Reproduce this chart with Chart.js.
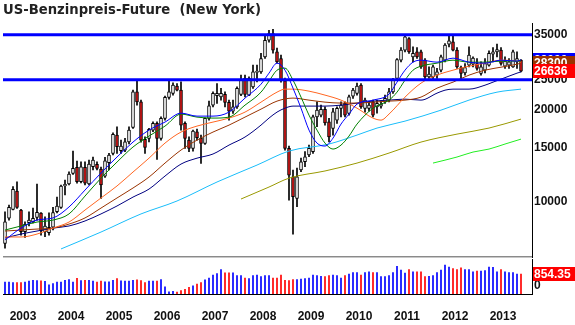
<!DOCTYPE html>
<html>
<head>
<meta charset="utf-8">
<script src="https://cdn.jsdelivr.net/npm/chart.js@4.4.1/dist/chart.umd.min.js"></script>
<style>
  html, body { margin: 0; padding: 0; background: #fff; }
  #wrap { position: relative; width: 575px; height: 325px; overflow: hidden; }
  #priceChart { position: absolute; left: 0; top: 0; }
  #volumeChart { position: absolute; left: 0; top: 258px; }
</style>
</head>
<body>
<div id="wrap">
  <canvas id="priceChart" width="575" height="258"></canvas>
  <canvas id="volumeChart" width="575" height="67"></canvas>
</div>
<script>
// ==============================
// DATA - monthly bars, index 0 = first month shown
// ==============================
const opens = [7340,8860,9470,10860,9420,8010,8570,8630,8920,9200,
  8010,7950,8280,9300,9610,11280,11450,12400,12970,11640,
  12970,11450,13030,13260,12810,12150,13420,14400,16510,14680,
  14760,15700,17490,22820,21180,15990,16110,17140,18020,16110,
  18710,21890,22560,23810,23110,18020,15900,14950,16930,16110,
  15520,18710,20660,22160,21990,22390,21090,19750,20400,22390,
  25230,22270,23690,26390,26510,29660,33590,35320,30780,29300,
  24780,14950,12090,10280,12710,13520,14220,14580,18930,19170,
  20010,18240,17360,18470,20160,20930,19420,22110,22560,23990,
  20160,20160,21180,20400,20510,21180,21450,22820,25230,28930,
  31170,34000,29660,30780,30780,28930,25540,25540,25860,26840,
  28930,32610,33170,31170,27390,26310,27860,28070,28220,26190,
  26840,27860,30260,30780,31170,27660,27860,27510,28570,28930];
const highs = [9300,9780,11220,11640,9470,8630,9300,9560,11450,9240,
  8960,9220,9610,10380,11360,11790,12550,14650,13590,13520,
  13520,13690,14010,13520,13000,13980,14400,16800,17570,15900,
  16110,17570,23110,24910,21450,16300,17360,18240,18240,18930,
  22110,25040,24410,24300,24600,18240,16300,17140,17270,16510,
  18790,21290,22820,24300,23410,22820,21450,21450,23690,25860,
  25860,25540,27860,27860,30420,34870,36200,36470,31650,30030,
  25290,15210,12710,12900,13900,14580,15320,19170,21180,20660,
  20400,18710,20160,20400,21180,21180,22270,23410,24360,24300,
  21780,21180,21450,21450,21290,22270,23410,25230,29300,31760,
  34870,34270,31960,31760,31170,29300,27510,27860,27190,30030,
  32780,34610,34610,31760,27660,28220,31960,29660,29300,28570,
  29300,31010,31760,32610,31760,29660,29300,31170,30780,29080];
const lows = [7080,8740,9420,9540,7810,7680,8360,8550,8740,7810,
  7720,7810,8110,9220,9540,10540,11360,12300,11510,11530,
  11360,11360,12710,12710,10280,12030,12710,14220,14400,14400,
  14580,15440,17360,20660,15670,14400,15700,16930,13760,15900,
  18470,21610,22270,22990,17140,14950,14580,14650,15900,13360,
  15400,18470,20400,20930,21450,20400,18470,19420,20160,22160,
  21990,22160,23410,24600,26190,29300,33100,30490,28290,24540,
  14760,10150,7870,9660,12550,13030,14040,14400,17570,18930,
  17790,15700,16510,18020,18930,18930,19170,21730,22270,20160,
  19610,19750,18930,19460,20200,20930,21180,22560,24910,28570,
  30780,30420,28570,29300,27190,25040,24910,25040,25230,26510,
  28570,31960,31010,27190,24910,25860,27510,27510,26840,25860,
  26310,27660,28570,29660,27860,27190,27190,27390,27190,26510];
const closes = [8630,9610,11000,9610,8010,8460,8740,8860,9260,8070,
  8360,8280,9240,9710,11280,11420,12330,12870,11640,13030,
  11510,13290,13690,12870,11360,13620,14220,16600,15130,15210,
  15700,17140,22820,21180,15900,15060,17230,18020,16110,18710,
  21890,22820,23990,23110,17790,16110,14950,17010,16180,15520,
  18710,20550,22560,22560,22560,21090,19750,20400,23410,24910,
  22390,25230,26510,26640,29300,33590,35320,31170,28570,24910,
  14950,12240,10410,12090,13520,14040,14950,18930,19900,20010,
  18100,16300,19650,20160,20660,19170,21990,23110,23810,20400,
  21450,20660,19170,20930,20820,21730,22820,24910,29080,31170,
  34430,30780,30420,29660,27510,25540,26060,27510,26510,29660,
  32360,33420,31170,27510,26190,27390,30030,29370,27190,27510,
  28220,30420,30780,31330,28220,28720,28570,30780,29300,26636];
const volumes = [512,512,486,486,486,512,552,591,578,565,
  539,394,447,512,512,591,618,512,670,578,
  591,591,552,512,552,526,526,591,657,565,
  552,552,591,604,578,486,552,552,552,618,
  302,92,118,79,145,197,289,355,420,486,
  604,683,815,880,1051,907,907,907,788,788,
  683,657,788,815,749,788,788,683,683,815,
  591,578,618,618,644,657,683,815,788,762,
  749,788,815,788,683,788,854,920,920,815,
  920,946,920,920,749,749,788,920,1183,1025,
  894,1051,946,946,946,749,762,788,920,1025,
  1235,1156,1091,1051,1117,1051,1051,946,986,986,
  999,1156,1143,946,1051,946,920,920,854,854.35];

// moving averages, read at sample months
const maBlueIdx = [0,4,8,12,16,20,24,28,32,36,40,44,48,52,56,60,64,66,68,70,72,74,76,78,80,82,84,86,88,92,96,98,100,102,104,108,112,116,120,124,128,129];
const maBlue = [7530,8230,8740,8880,9640,10940,12430,14010,15670,17140,
  18200,19460,19030,19030,19610,21780,24170,26250,28290,26840,
  23460,20200,17140,15550,15210,16140,17930,19320,20820,21450,
  22440,24540,26840,28500,28930,28500,29370,28500,28290,28930,28720,29000];
const maGreenIdx = maBlueIdx;
const maGreen = [8110,8360,8610,8740,9150,10460,11960,13490,15100,16390,
  17660,19320,18890,18750,18890,20660,22770,24730,26840,27250,
  24910,21940,19170,17140,15550,14870,15320,16390,17930,20200,
  21450,22770,24910,26840,27660,28290,28930,28500,28500,28720,28720,28720];
const maOrangeIdx = [0,4,8,12,16,20,24,28,32,36,40,44,48,52,56,60,64,68,70,72,76,80,84,88,92,94,96,100,104,108,112,116,120,124,128,129];
const maOrange = [7700,7700,7870,8230,8610,9420,10310,11280,12520,13890,
  15550,16890,17660,18200,18750,19610,21130,22770,23290,23290,
  22940,22270,21450,20200,18750,18470,19320,21940,24360,25860,
  26840,27660,28290,28930,28720,28500];
const maBrownIdx = [0,4,8,12,16,20,24,28,32,36,40,44,48,52,56,60,64,68,72,76,80,84,88,92,96,100,104,108,112,116,120,124,128,129];
const maBrown = [8050,8110,8170,8230,8480,8880,9560,10310,11110,12060,
  13390,14760,15900,16890,17790,18890,20050,21290,21780,21450,
  21130,20980,20980,21130,21290,21450,21940,23460,24540,25860,
  26840,27450,28070,28300];
const maNavyIdx = [0,4,8,12,16,20,24,28,32,36,40,44,48,52,56,60,64,66,68,70,72,76,80,84,88,92,96,100,104,108,110,112,116,120,122,124,126,128,129];
const maNavy = [7640,7870,8050,8230,8360,8680,9150,9710,10380,11020,
  12150,13290,13890,14330,15320,16270,17790,18750,19610,20200,
  20510,20510,20510,20660,20980,21290,21450,21610,21450,22600,
  23110,23290,23290,23990,24540,25100,25670,26250,26500];
const maCyanIdx = [14,24,34,43,53,63,71,81,88,93,100,109,116,123,129];
const maCyan = [7040,7990,9150,10080,11620,13190,14650,15440,16510,17400,18330,19900,21450,22770,23290];
const maOliveIdx = [59,66,71,80,88,96,104,113,121,129];
const maOlive = [10230,11190,11960,12620,13390,14430,15670,16630,17400,18610];
const maLimeIdx = [107,113,117,121,125,129];
const maLime = [13390,14010,14540,14870,15440,16020];

const levels = [35000, 25000];
const priceTicks = [10000, 15000, 20000, 25000, 35000];
const years = ['2003','2004','2005','2006','2007','2008','2009','2010','2011','2012','2013'];

// ==============================
// CONFIG
// ==============================
const xMin = -0.5;
const xMax = 131.75;
const labelFont = { family: '"Liberation Sans", Arial, sans-serif', size: 12, weight: 'bold' };
const yearTicks = years.map((y, k) => 12 * k + 4.5);

const upColor = '#ffffff';
const downColor = '#d01818';

function isDown(i) {
    return closes[i] < opens[i];
}

function maDataset(idx, vals, color) {
    return {
        type: 'line',
        data: idx.map((x, k) => ({ x: x, y: vals[k] })),
        borderColor: color,
        borderWidth: 1,
        pointRadius: 0,
        cubicInterpolationMode: 'monotone',
        fill: false,
        order: 2
    };
}

// keep the plot area where the layout puts it, labels may hang over
function noLabelPadding(axis) {
    axis.paddingTop = 0;
    axis.paddingBottom = 0;
    axis.paddingLeft = 0;
    axis.paddingRight = 0;
}

// value boxes on the right axis
function tagPlugin(id, getTags) {
    return {
        id: id,
        afterDraw(chart) {
            const { ctx, chartArea, scales } = chart;
            ctx.save();
            ctx.font = 'bold 12px "Liberation Sans", Arial, sans-serif';
            ctx.textBaseline = 'middle';
            getTags().forEach(t => {
                const y = Math.round(scales.y.getPixelForValue(t.value));
                ctx.fillStyle = t.bg;
                ctx.fillRect(chartArea.right + 1, y - 7, chart.width - chartArea.right - 1, 14);
                ctx.fillStyle = '#ffffff';
                ctx.fillText(String(t.value), chartArea.right + 2, y + 1);
            });
            ctx.restore();
        }
    };
}

const separator = {
    id: 'separator',
    afterDraw(chart) {
        const { ctx, chartArea } = chart;
        ctx.save();
        ctx.fillStyle = '#8a8a8a';
        ctx.fillRect(chartArea.left, chartArea.bottom - 1, chartArea.right - chartArea.left, 1);
        ctx.fillStyle = '#c8c8c8';
        ctx.fillRect(chartArea.left, chartArea.bottom, chartArea.right - chartArea.left, 1);
        ctx.restore();
    }
};

// ==============================
// PRICE CHART
// ==============================
const priceChart = new Chart(document.getElementById('priceChart'), {
    type: 'bar',
    data: {
        datasets: [
            ...levels.map(l => ({
                type: 'line',
                data: [{ x: xMin, y: l }, { x: xMax, y: l }],
                borderColor: '#0000ff',
                borderWidth: 3,
                pointRadius: 0,
                order: 0
            })),
            maDataset(maBlueIdx, maBlue, '#0000ff'),
            maDataset(maGreenIdx, maGreen, '#008000'),
            maDataset(maOrangeIdx, maOrange, '#ff6622'),
            maDataset(maBrownIdx, maBrown, '#993300'),
            maDataset(maNavyIdx, maNavy, '#000080'),
            maDataset(maCyanIdx, maCyan, '#19bdfa'),
            maDataset(maOliveIdx, maOlive, '#999900'),
            maDataset(maLimeIdx, maLime, '#22ee22'),
            {
                // candle bodies
                data: opens.map((o, i) => ({ x: i, y: [o, closes[i]] })),
                backgroundColor: opens.map((o, i) => isDown(i) ? downColor : upColor),
                borderColor: '#000000',
                borderWidth: 1,
                borderSkipped: false,
                barThickness: 3,
                grouped: false,
                order: 5
            },
            {
                // wicks
                data: lows.map((l, i) => ({ x: i, y: [l, highs[i]] })),
                backgroundColor: '#000000',
                borderWidth: 0,
                barThickness: 1,
                grouped: false,
                order: 6
            }
        ]
    },
    options: {
        responsive: false,
        animation: false,
        devicePixelRatio: 1,
        layout: { padding: { left: 3, top: 0, right: 0, bottom: 1 } },
        plugins: {
            legend: { display: false },
            tooltip: { enabled: false },
            title: {
                display: true,
                text: 'US-Benzinpreis-Future  (New York)',
                align: 'start',
                color: '#222222',
                font: { family: '"DejaVu Sans", Verdana, sans-serif', size: 13.2, weight: 'bold' },
                padding: { top: 3, bottom: 5 }
            }
        },
        scales: {
            x: {
                type: 'linear',
                min: xMin,
                max: xMax,
                offset: false,
                display: false
            },
            y: {
                type: 'logarithmic',
                position: 'right',
                min: 6628,
                max: 37970,
                afterBuildTicks(axis) {
                    axis.ticks = priceTicks.map(v => ({ value: v }));
                },
                afterFit(axis) {
                    axis.width = 43;
                    noLabelPadding(axis);
                },
                grid: { display: false, drawTicks: false },
                border: { display: true, color: '#000000', width: 1 },
                ticks: {
                    color: '#111111',
                    font: labelFont,
                    padding: 2,
                    callback: v => String(v)
                }
            }
        }
    },
    plugins: [separator, tagPlugin('priceTags', () => [
        { value: maBlue[maBlue.length - 1], bg: '#0000ff' },
        { value: maBrown[maBrown.length - 1], bg: '#993300' },
        { value: closes[closes.length - 1], bg: '#ff0000' }
    ])]
});

// ==============================
// VOLUME CHART
// ==============================
const volumeChart = new Chart(document.getElementById('volumeChart'), {
    type: 'bar',
    data: {
        datasets: [{
            data: volumes.map((v, i) => ({ x: i, y: v })),
            backgroundColor: volumes.map((v, i) => isDown(i) ? '#ff0000' : '#0000ff'),
            barThickness: 1,
            grouped: false
        }]
    },
    options: {
        responsive: false,
        animation: false,
        devicePixelRatio: 1,
        layout: { padding: { left: 3, top: 1, right: 0, bottom: 0 } },
        plugins: {
            legend: { display: false },
            tooltip: { enabled: false }
        },
        scales: {
            x: {
                type: 'linear',
                min: xMin,
                max: xMax,
                offset: false,
                afterBuildTicks(axis) {
                    axis.ticks = yearTicks.map(v => ({ value: v }));
                },
                afterFit(axis) {
                    axis.height = 31;
                    noLabelPadding(axis);
                },
                grid: { display: false, drawTicks: false },
                border: { display: true, color: '#000000', width: 1 },
                ticks: {
                    color: '#111111',
                    font: labelFont,
                    padding: 15,
                    maxRotation: 0,
                    autoSkip: false,
                    callback: (v, k) => years[k]
                }
            },
            y: {
                type: 'linear',
                position: 'right',
                min: 0,
                max: 1500,
                afterBuildTicks(axis) {
                    axis.ticks = [{ value: 0 }];
                },
                afterFit(axis) {
                    axis.width = 43;
                    noLabelPadding(axis);
                },
                grid: { display: false, drawTicks: false },
                border: { display: true, color: '#000000', width: 1 },
                ticks: {
                    color: '#111111',
                    font: labelFont,
                    padding: 2,
                    labelOffset: -8,
                    callback: v => String(v)
                }
            }
        }
    },
    plugins: [tagPlugin('volumeTag', () => [
        { value: volumes[volumes.length - 1], bg: '#ff0000' }
    ])]
});
</script>
</body>
</html>
